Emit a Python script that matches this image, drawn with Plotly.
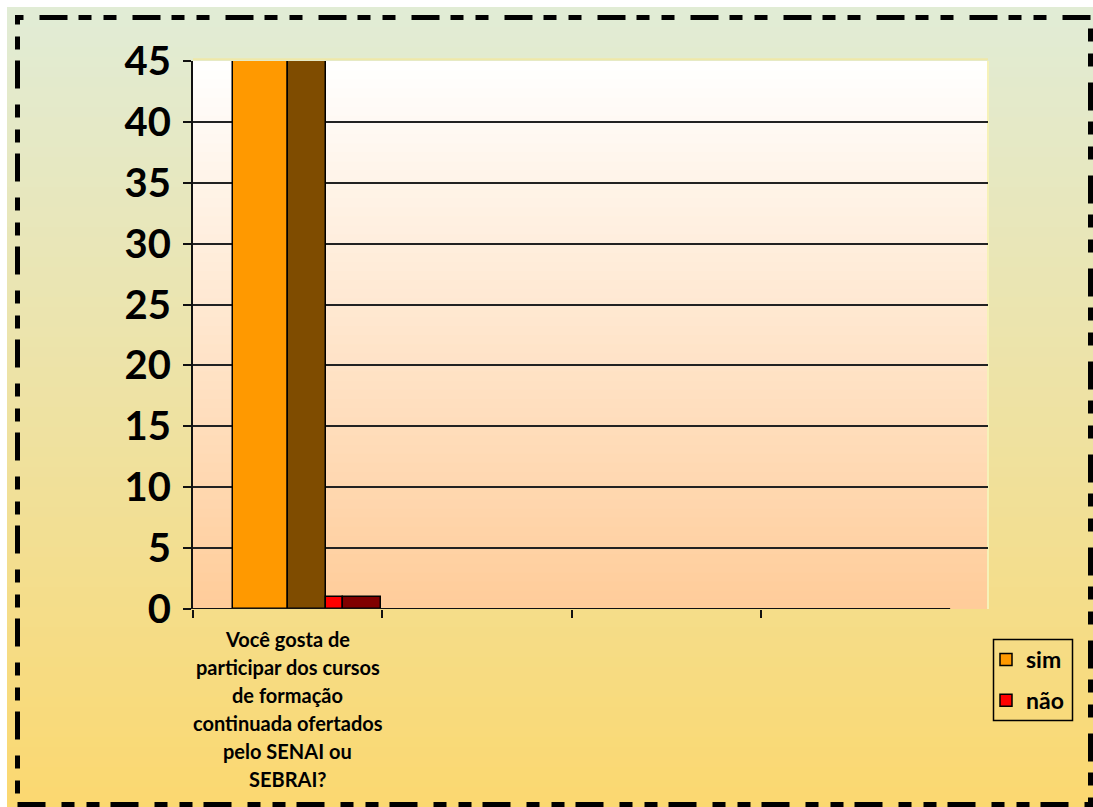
import plotly.graph_objects as go

# ---------------- data ----------------
categories = [
    "Você gosta de|participar dos cursos|de formação|continuada ofertados|pelo SENAI ou|SEBRAI?",
    "", "", "",
]
series_names = ["sim", "não"]
sim_values = [45, None, None, None]
nao_values = [1, None, None, None]
y_ticks = [0, 5, 10, 15, 20, 25, 30, 35, 40, 45]

# ---------------- geometry (pixels of the 1093x807 page) ----------------
W, H = 1093, 807
L, R, T, B = 193, 988, 61, 609          # plot area
PW, PH = R - L, B - T

def px_x(p):
    return (p - L) / PW

def px_y(p):
    return (B - p) / PH

def lerp(c0, c1, f):
    return "rgb(%d,%d,%d)" % tuple(round(a + (b - a) * f) for a, b in zip(c0, c1))

shapes = []
# outer gradient background (light green -> yellow)
top_c, bot_c = (225, 236, 214), (251, 216, 112)
n = 80
y0p, y1p = 7, 807
for i in range(n):
    a = y0p + (y1p - y0p) * i / n
    b = y0p + (y1p - y0p) * (i + 1) / n + 1
    shapes.append(dict(type="rect", xref="paper", yref="paper", layer="below",
                       x0=px_x(7), x1=px_x(W + 2), y0=px_y(a), y1=px_y(min(b, y1p)),
                       fillcolor=lerp(top_c, bot_c, (i + 0.5) / n), line=dict(width=0)))
# plot area gradient (white -> peach)
pt_c, pb_c = (255, 255, 255), (255, 204, 153)
n2 = 60
for i in range(n2):
    a = T + PH * i / n2
    b = T + PH * (i + 1) / n2 + 1
    shapes.append(dict(type="rect", xref="paper", yref="paper", layer="below",
                       x0=0, x1=1, y0=px_y(a), y1=px_y(min(b, B)),
                       fillcolor=lerp(pt_c, pb_c, (i + 0.5) / n2), line=dict(width=0)))
# pale right / top edge of plot area
shapes.append(dict(type="line", xref="paper", yref="paper", layer="below",
                   x0=1, x1=1, y0=0, y1=1, line=dict(color="#f6f2b8", width=2)))
shapes.append(dict(type="line", xref="paper", yref="paper", layer="below",
                   x0=0, x1=1, y0=1.003, y1=1.003, line=dict(color="#efe8a8", width=2)))
# x axis line (only across the category slots)
shapes.append(dict(type="line", xref="x", yref="y", layer="above",
                   x0=0, x1=len(categories), y0=0, y1=0,
                   line=dict(color="#111", width=2)))
# legend frame
shapes.append(dict(type="rect", xref="paper", yref="paper", layer="above",
                   x0=px_x(993.5), x1=px_x(1072.5), y0=px_y(720.5), y1=px_y(639.5),
                   line=dict(color="black", width=1.5), fillcolor="rgba(0,0,0,0)"))
# dashed outer frame
shapes.append(dict(type="rect", xref="paper", yref="paper", layer="above",
                   x0=px_x(17.5), x1=px_x(1090.5), y0=px_y(804.5), y1=px_y(17.5),
                   line=dict(color="black", width=5,
                             dash="28px,16px,13px,12px,13px,11px"),
                   fillcolor="rgba(0,0,0,0)"))

# ---------------- bars (front face + depth face for each series) ----------------
idx = list(range(len(categories)))
bar_line = dict(color="black", width=1.5)
fig = go.Figure()
fig.add_trace(go.Bar(x=[i + 0.356 for i in idx], y=sim_values, width=0.291,
                     marker=dict(color="#FF9900", line=bar_line),
                     name=series_names[0], legendgroup="g1", showlegend=True))
fig.add_trace(go.Bar(x=[i + 0.6025 for i in idx], y=sim_values, width=0.201,
                     marker=dict(color="#7F4C00", line=bar_line),
                     name=series_names[0], legendgroup="g1", showlegend=False))
fig.add_trace(go.Bar(x=[i + 0.748 for i in idx], y=nao_values, width=0.09,
                     marker=dict(color="#FF0000", line=bar_line),
                     name=series_names[1], legendgroup="g2", showlegend=True))
fig.add_trace(go.Bar(x=[i + 0.894 for i in idx], y=nao_values, width=0.202,
                     marker=dict(color="#800000", line=bar_line),
                     name=series_names[1], legendgroup="g2", showlegend=False))

# ---------------- category labels ----------------
annotations = []
for i, cat in enumerate(categories):
    if not cat:
        continue
    for k, line in enumerate(cat.split("|")):
        annotations.append(dict(x=i + 0.5, y=0, xref="x", yref="y", text="<b>%s</b>" % line,
                                showarrow=False, xanchor="center", yanchor="middle",
                                yshift=-(30 + 28 * k),
                                font=dict(family="Lato", size=20, color="black")))

fig.update_layout(
    width=W, height=H,
    margin=dict(l=L, r=W - R, t=T, b=H - B, pad=0),
    paper_bgcolor="white",
    plot_bgcolor="rgba(0,0,0,0)",
    barmode="overlay",
    bargap=0,
    shapes=shapes,
    annotations=annotations,
    showlegend=True,
    legend=dict(x=px_x(986), y=px_y(638), xanchor="left", yanchor="top",
                bgcolor="rgba(0,0,0,0)", borderwidth=0,
                font=dict(family="Lato", size=23, color="black", weight="bold"),
                tracegroupgap=8, itemwidth=30),
    xaxis=dict(range=[0, len(categories) + 0.2], tickvals=idx, ticks="outside",
               ticklen=8, tickwidth=2, tickcolor="#111", showticklabels=False,
               showgrid=False, zeroline=False, showline=False, fixedrange=True),
    yaxis=dict(range=[0, 45], tickvals=y_ticks, ticks="outside", ticklen=8,
               tickwidth=2, tickcolor="#111", showline=True, linecolor="#111",
               linewidth=2, showgrid=True, gridcolor="#222", gridwidth=2,
               zeroline=False, ticklabelstandoff=4,
               tickfont=dict(family="Lato", size=40, color="black", weight="bold")),
)

fig.write_html("out.html")
